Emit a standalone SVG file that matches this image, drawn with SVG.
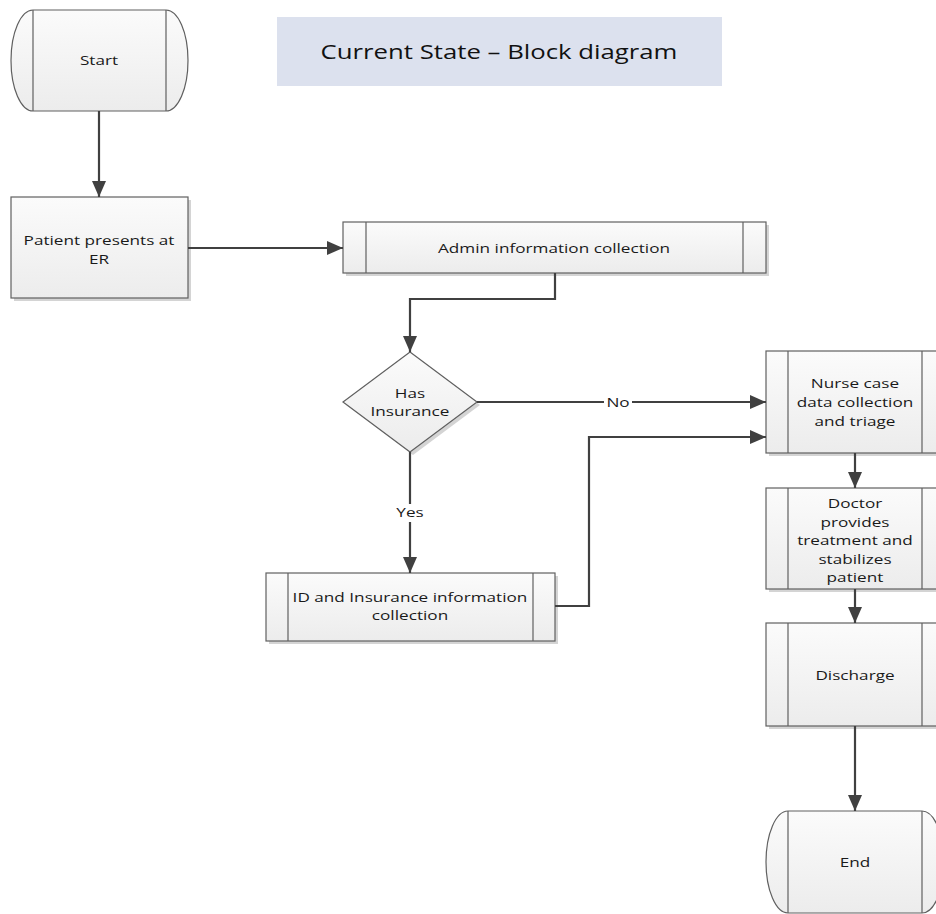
<svg xmlns="http://www.w3.org/2000/svg" width="936" height="914" viewBox="0 0 936 914">
  <defs>
    <linearGradient id="g" x1="0" y1="0" x2="0" y2="1">
      <stop offset="0" stop-color="#fbfbfb"/>
      <stop offset="1" stop-color="#ececec"/>
    </linearGradient>
    <marker id="arr" markerUnits="userSpaceOnUse" markerWidth="16" markerHeight="14" refX="16" refY="7" orient="auto">
      <path d="M0,0 L16,7 L0,14 z" fill="#404040"/>
    </marker>
  </defs>
  <style>
    .shape { fill: url(#g); stroke: #606060; stroke-width: 1.2; }
    .shadow { fill: #d4d4d4; stroke: none; }
    .inner { stroke: #606060; stroke-width: 1.2; fill: none; }
    .lbl { font-family: "Open Sans", "Liberation Sans", sans-serif; font-size: 13px; fill: #1a1a1a; text-anchor: middle; }
    .title { font-family: "Open Sans", "Liberation Sans", sans-serif; font-size: 19.5px; fill: #111; text-anchor: middle; }
    .conn { fill: none; stroke: #404040; stroke-width: 2.2; }
    .bg { fill: #ffffff; }
  </style>

  <g id="title">
    <rect x="277" y="17" width="445" height="69" fill="#dce1ee"/>
    <text class="title" transform="translate(499,59) scale(1.32,1)">Current State – Block diagram</text>
  </g>

  <g id="start">
    <path class="shape" d="M33,10 H166 A22,50.5 0 0 1 166,111 H33 A22,50.5 0 0 1 33,10 Z"/>
    <line class="inner" x1="33" y1="10" x2="33" y2="111"/>
    <line class="inner" x1="166" y1="10" x2="166" y2="111"/>
    <text class="lbl" transform="translate(99,65) scale(1.32,1)">Start</text>
  </g>

  <g id="patient">
    <rect class="shadow" x="14" y="200" width="177" height="101"/>
    <rect class="shape" x="11" y="197" width="177" height="101"/>
    <text class="lbl" transform="translate(99,245) scale(1.32,1)">Patient presents at</text>
    <text class="lbl" transform="translate(99,264) scale(1.32,1)">ER</text>
  </g>

  <g id="admin">
    <rect class="shadow" x="346" y="225" width="423" height="51"/>
    <rect class="shape" x="343" y="222" width="423" height="51"/>
    <line class="inner" x1="366" y1="222" x2="366" y2="273"/>
    <line class="inner" x1="743" y1="222" x2="743" y2="273"/>
    <text class="lbl" transform="translate(554,253) scale(1.32,1)">Admin information collection</text>
  </g>

  <g id="decision">
    <polygon class="shadow" points="413,355 480,405 413,455 346,405"/>
    <polygon class="shape" points="410,352 477,402 410,452 343,402"/>
    <text class="lbl" transform="translate(410,398) scale(1.32,1)">Has</text>
    <text class="lbl" transform="translate(410,416) scale(1.32,1)">Insurance</text>
  </g>

  <g id="id-insurance">
    <rect class="shadow" x="269" y="576" width="289" height="68"/>
    <rect class="shape" x="266" y="573" width="289" height="68"/>
    <line class="inner" x1="288" y1="573" x2="288" y2="641"/>
    <line class="inner" x1="533" y1="573" x2="533" y2="641"/>
    <text class="lbl" transform="translate(410,602) scale(1.32,1)">ID and Insurance information</text>
    <text class="lbl" transform="translate(410,620) scale(1.32,1)">collection</text>
  </g>

  <g id="nurse">
    <rect class="shadow" x="769" y="354" width="178" height="102"/>
    <rect class="shape" x="766" y="351" width="178" height="102"/>
    <line class="inner" x1="788" y1="351" x2="788" y2="453"/>
    <line class="inner" x1="922" y1="351" x2="922" y2="453"/>
    <text class="lbl" transform="translate(855,388) scale(1.32,1)">Nurse case</text>
    <text class="lbl" transform="translate(855,407) scale(1.32,1)">data collection</text>
    <text class="lbl" transform="translate(855,426) scale(1.32,1)">and triage</text>
  </g>

  <g id="doctor">
    <rect class="shadow" x="769" y="491" width="178" height="101"/>
    <rect class="shape" x="766" y="488" width="178" height="101"/>
    <line class="inner" x1="788" y1="488" x2="788" y2="589"/>
    <line class="inner" x1="922" y1="488" x2="922" y2="589"/>
    <text class="lbl" transform="translate(855,508) scale(1.32,1)">Doctor</text>
    <text class="lbl" transform="translate(855,526.5) scale(1.32,1)">provides</text>
    <text class="lbl" transform="translate(855,545) scale(1.32,1)">treatment and</text>
    <text class="lbl" transform="translate(855,563.5) scale(1.32,1)">stabilizes</text>
    <text class="lbl" transform="translate(855,582) scale(1.32,1)">patient</text>
  </g>

  <g id="discharge">
    <rect class="shadow" x="769" y="626" width="178" height="103"/>
    <rect class="shape" x="766" y="623" width="178" height="103"/>
    <line class="inner" x1="788" y1="623" x2="788" y2="726"/>
    <line class="inner" x1="922" y1="623" x2="922" y2="726"/>
    <text class="lbl" transform="translate(855,680) scale(1.32,1)">Discharge</text>
  </g>

  <g id="end">
    <path class="shape" d="M788,811 H922 A22,51 0 0 1 922,913 H788 A22,51 0 0 1 788,811 Z"/>
    <line class="inner" x1="788" y1="811" x2="788" y2="913"/>
    <line class="inner" x1="922" y1="811" x2="922" y2="913"/>
    <text class="lbl" transform="translate(855,867) scale(1.32,1)">End</text>
  </g>

  <g id="connectors">
    <path class="conn" d="M99,111 V197" marker-end="url(#arr)"/>
    <path class="conn" d="M188,248 H343" marker-end="url(#arr)"/>
    <path class="conn" d="M555,273 V299 H410 V352" marker-end="url(#arr)"/>
    <path class="conn" d="M477,402 H766" marker-end="url(#arr)"/>
    <path class="conn" d="M410,452 V573" marker-end="url(#arr)"/>
    <path class="conn" d="M555,606 H589 V437 H766" marker-end="url(#arr)"/>
    <path class="conn" d="M855,453 V488" marker-end="url(#arr)"/>
    <path class="conn" d="M855,589 V623" marker-end="url(#arr)"/>
    <path class="conn" d="M855,726 V811" marker-end="url(#arr)"/>
    <rect class="bg" x="604" y="394" width="28" height="16"/>
    <text class="lbl" transform="translate(618,407) scale(1.32,1)">No</text>
    <rect class="bg" x="393" y="504" width="34" height="18"/>
    <text class="lbl" transform="translate(410,517) scale(1.32,1)">Yes</text>
  </g>
</svg>
